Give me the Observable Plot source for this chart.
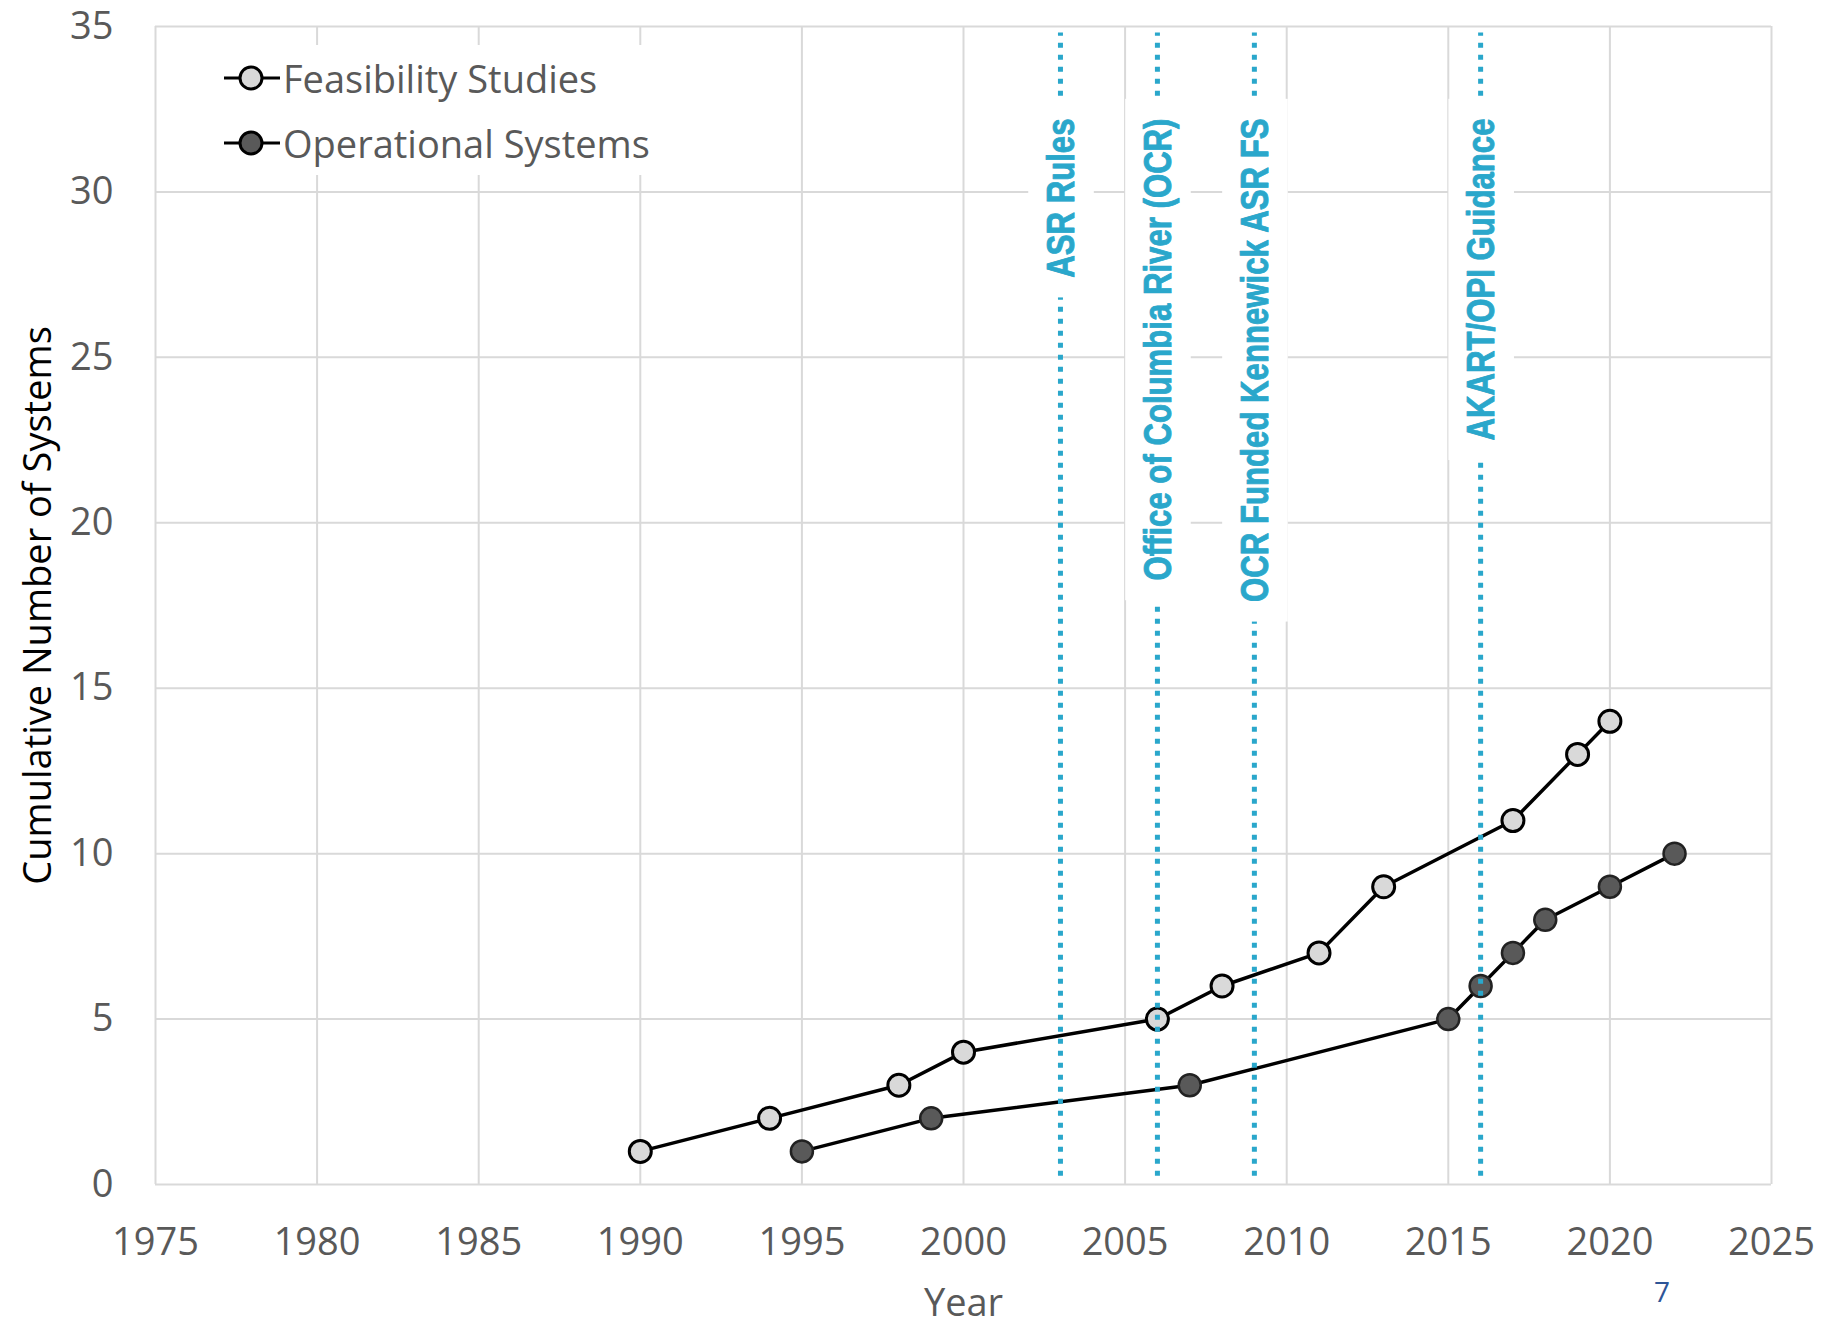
<!DOCTYPE html>
<html>
<head>
<meta charset="utf-8">
<script src="https://cdn.jsdelivr.net/npm/d3@7"></script>
<script src="https://cdn.jsdelivr.net/npm/@observablehq/plot@0.6"></script>
<style>
  html, body { margin: 0; padding: 0; background: #fff; }
  #wrap { position: relative; width: 1828px; height: 1322px; overflow: hidden; }
  #legend { position: absolute; left: 208px; top: 45px; width: 455px; background: #fff;
            font-family: "Open Sans", sans-serif; font-size: 38px; color: #595959; }
  #legend .row { height: 65px; display: flex; align-items: center; padding-left: 14px; }
  #legend svg { margin-right: 1px; }
  #page { position: absolute; left: 1654px; top: 1272px; font-family: "Open Sans", sans-serif;
          font-size: 28px; color: #2E5597; }
</style>
</head>
<body>
<div id="wrap"></div>
<script>
// ---- data ----
const xTicks = [1975, 1980, 1985, 1990, 1995, 2000, 2005, 2010, 2015, 2020, 2025];
const yTicks = [0, 5, 10, 15, 20, 25, 30, 35];
const seriesNames = ["Feasibility Studies", "Operational Systems"];
const feasYears  = [1990, 1994, 1998, 2000, 2006, 2008, 2011, 2013, 2017, 2019, 2020];
const feasCounts = [1, 2, 3, 4, 5, 6, 7, 9, 11, 13, 14];
const opYears  = [1995, 1999, 2007, 2015, 2016, 2017, 2018, 2020, 2022];
const opCounts = [1, 2, 3, 5, 6, 7, 8, 9, 10];
const eventYears  = [2003, 2006, 2009, 2016];
const eventLabels = ["ASR Rules", "Office of Columbia River (OCR)", "OCR Funded Kennewick ASR FS", "AKART/OPI Guidance"];
const xLabel = "Year";
const yLabel = "Cumulative Number of Systems";
const pageNumber = "7";

const feas = feasYears.map((year, i) => ({year, count: feasCounts[i]}));
const ops = opYears.map((year, i) => ({year, count: opCounts[i]}));
const events = eventYears.map((year, i) => ({year, label: eventLabels[i]}));

const blue = "#2AA7CB";
const grid = "#D9D9D9";
const feasFill = "#D9D9D9";
const opFill = "#595959";

const plot = Plot.plot({
  width: 1828,
  height: 1322,
  marginTop: 26,
  marginBottom: 138,
  marginLeft: 155,
  marginRight: 57,
  style: {fontFamily: "'Open Sans', sans-serif", fontSize: "38px", color: "#595959", background: "#fff", overflow: "visible"},
  x: {domain: [1975, 2025], label: null},
  y: {domain: [0, 35], label: null},
  marks: [
    Plot.ruleX(xTicks, {stroke: grid, strokeWidth: 2}),
    Plot.ruleY(yTicks, {stroke: grid, strokeWidth: 2}),
    Plot.axisX({ticks: xTicks, tickFormat: d => String(d), tickSize: 0, tickPadding: 44, fontSize: 38,
                label: xLabel, labelAnchor: "center", labelOffset: 131, labelArrow: "none"}),
    Plot.axisY({ticks: yTicks, tickSize: 0, tickPadding: 42, fontSize: 38,
                label: yLabel, labelAnchor: "center", labelOffset: 131, labelArrow: "none"}),
    Plot.line(feas, {x: "year", y: "count", stroke: "#000", strokeWidth: 3.5}),
    Plot.line(ops, {x: "year", y: "count", stroke: "#000", strokeWidth: 3.5}),
    Plot.dot(feas, {x: "year", y: "count", r: 11, fill: feasFill, stroke: "#000", strokeWidth: 3}),
    Plot.dot(ops, {x: "year", y: "count", r: 11, fill: opFill, stroke: "#222", strokeWidth: 2.5}),
    Plot.ruleX(events, {x: "year", y1: 0.25, y2: 34.8, stroke: blue, strokeWidth: 5, strokeDasharray: "5,7"}),
    Plot.text(events, {x: "year", text: "label", frameAnchor: "top", dy: 92, rotate: -90, textAnchor: "end",
                       fill: blue, stroke: blue, strokeWidth: 0.9, fontWeight: "bold", fontSize: 38,
                       fontFamily: "'Liberation Sans', Arial, sans-serif",
                       ariaLabel: "events"})
  ]
});

const wrap = document.getElementById("wrap");
wrap.appendChild(plot);

// y label in black
d3.select(plot).selectAll('[aria-label="y-axis label"] text').attr("fill", "#000");

// narrow the event labels (Arial Narrow look), centre them on their rule, and put white boxes behind
d3.select(plot).selectAll("text").filter(function() {
  return eventLabels.includes(this.textContent);
}).each(function() {
  this.setAttribute("y", "0.36em");
  this.setAttribute("transform", (this.getAttribute("transform") || "") + " scale(0.82,1)");
  const b = this.getBBox();
  const padX = 24, padY = 12;
  const r = document.createElementNS("http://www.w3.org/2000/svg", "rect");
  r.setAttribute("x", b.x - padX);
  r.setAttribute("y", b.y - padY);
  r.setAttribute("width", b.width + 2 * padX);
  r.setAttribute("height", b.height + 2 * padY);
  r.setAttribute("fill", "#fff");
  r.setAttribute("stroke", "none");
  r.setAttribute("transform", this.getAttribute("transform"));
  this.parentNode.insertBefore(r, this);
});

// legend
const legend = document.createElement("div");
legend.id = "legend";
seriesNames.forEach((name, i) => {
  const row = document.createElement("div");
  row.className = "row";
  const fill = i === 0 ? feasFill : opFill;
  row.innerHTML = `<svg width="60" height="30" viewBox="0 0 60 30"><line x1="2" y1="15" x2="58" y2="15" stroke="#000" stroke-width="3"/><circle cx="29" cy="15" r="11" fill="${fill}" stroke="#000" stroke-width="3"/></svg><span>${name}</span>`;
  legend.appendChild(row);
});
wrap.appendChild(legend);

const page = document.createElement("div");
page.id = "page";
page.textContent = pageNumber;
wrap.appendChild(page);
</script>
</body>
</html>
